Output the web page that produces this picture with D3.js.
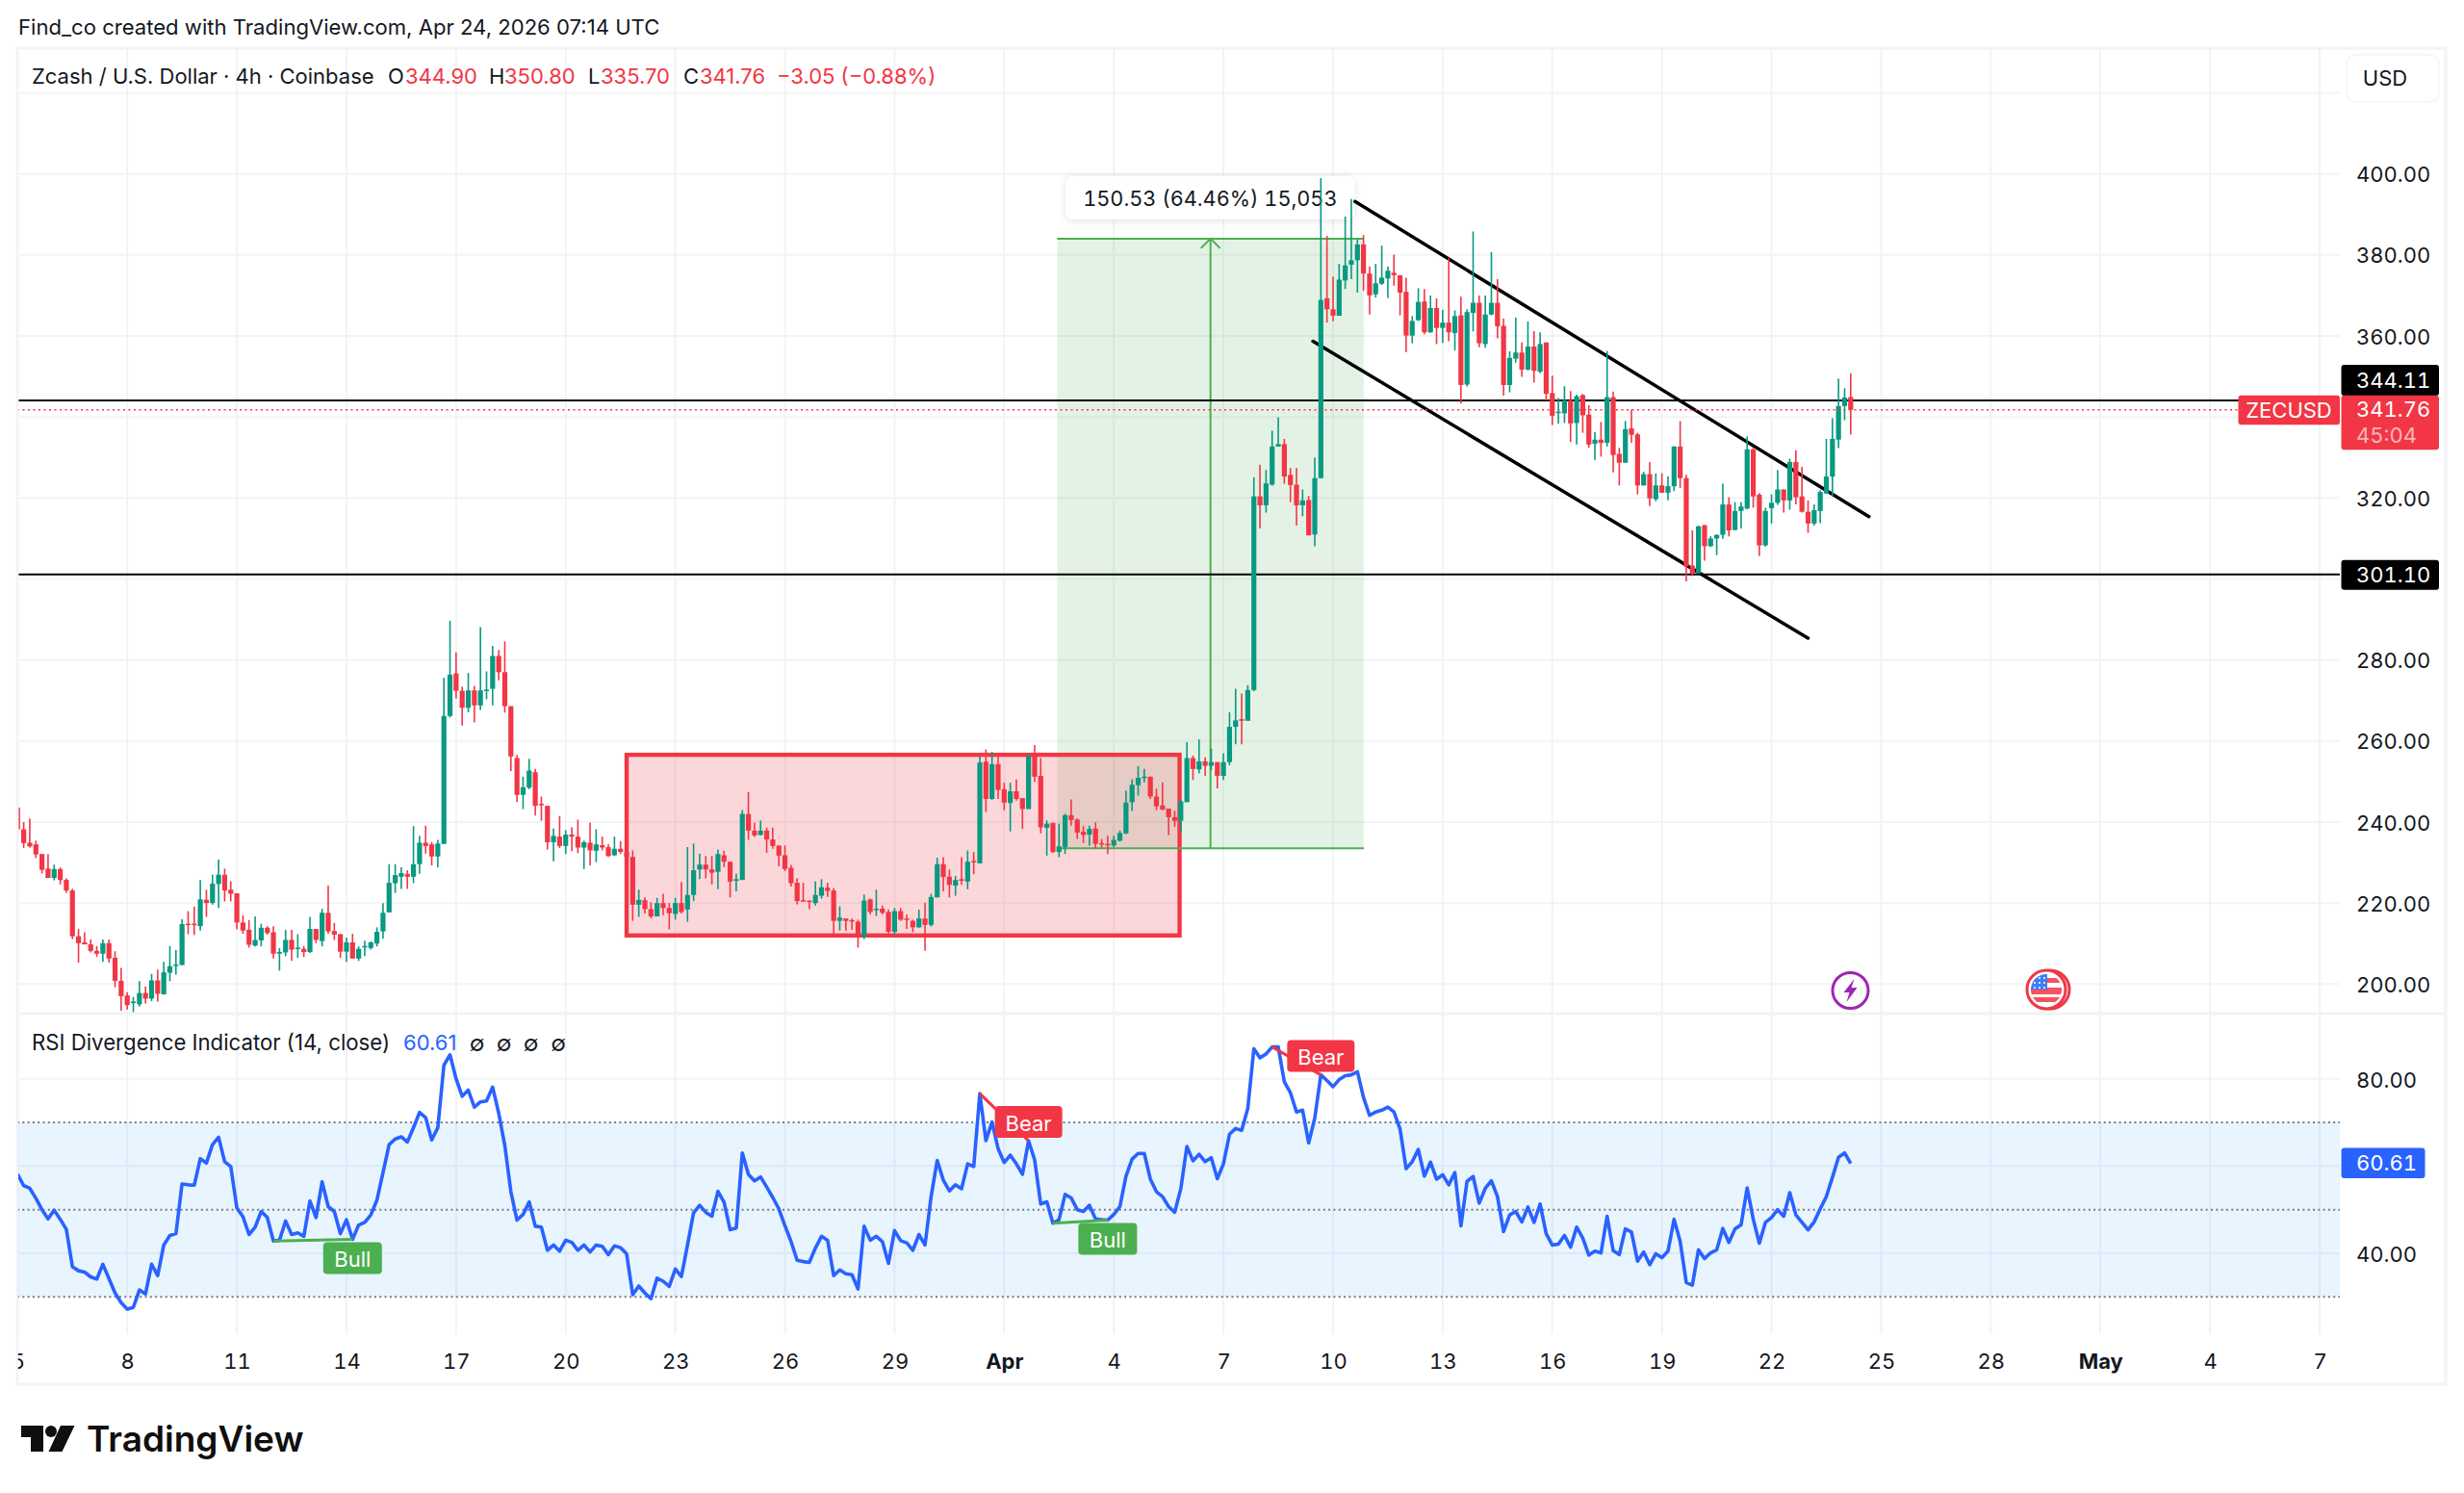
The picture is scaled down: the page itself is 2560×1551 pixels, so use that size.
<!DOCTYPE html>
<html>
<head>
<meta charset="utf-8">
<title>ZECUSD 4h</title>
<script src="https://cdn.jsdelivr.net/npm/d3@7/dist/d3.min.js"></script>
<style>
  html, body { margin: 0; padding: 0; background: #fff; }
  svg { display: block; }
  text { font-family: Inter, "Noto Sans", sans-serif; font-kerning: normal; font-feature-settings: "tnum" 1; }
  text.prose { font-feature-settings: normal; }
</style>
</head>
<body>
<svg id="chart" width="2560" height="1551"></svg>
<script>
// 4h ZEC/USD candles, one entry per bar, starting 5 March 2026 00:00 UTC.
const opens = [
243.6,238.2,234.9,234.5,232.1,228.5,226.2,228.4,225.7,223.1,
211.8,210.3,209.8,208.2,207.5,210.1,206.5,200.8,197.2,195.3,
195.0,197.8,196.4,200.9,197.5,202.8,204.5,204.7,214.9,214.9,
214.3,220.8,220.0,224.7,227.0,223.3,222.4,215.2,213.4,209.5,
210.8,213.9,212.8,207.5,207.8,210.9,208.7,208.7,207.9,213.6,
210.6,217.6,213.1,212.3,208.0,210.3,206.3,209.1,208.9,210.0,
213.0,217.7,224.9,226.5,227.2,226.5,229.6,234.9,234.5,231.5,
234.6,266.2,276.7,272.4,268.2,272.5,268.8,272.4,272.9,281.0,
277.0,268.6,255.8,246.7,248.5,252.3,244.5,244.0,235.0,236.4,
234.1,236.9,236.4,233.7,234.9,232.9,234.3,233.8,231.8,233.4,
232.6,231.4,219.6,220.7,218.5,216.7,220.0,218.8,217.3,220.0,
218.4,222.0,228.3,229.5,228.3,227.7,231.8,230.2,225.5,225.7,
242.0,237.9,236.8,237.9,235.7,234.2,231.8,228.7,225.0,220.7,
220.6,220.0,221.8,223.8,223.1,215.6,216.2,215.8,215.4,211.8,
220.9,218.3,218.6,217.8,212.9,218.0,216.2,215.6,214.0,216.2,
214.6,221.4,229.6,226.5,224.3,225.9,225.3,230.4,229.8,254.9,
245.7,254.3,248.1,244.7,247.6,245.9,243.2,256.3,251.4,238.6,
239.8,232.6,233.8,241.7,240.6,237.6,236.9,238.4,234.8,234.6,
234.2,235.4,237.2,244.9,249.1,250.9,251.2,246.3,244.1,243.3,
241.2,240.3,244.9,255.8,253.0,255.0,253.9,254.8,251.4,254.8,
263.5,265.4,265.0,272.6,320.4,318.2,323.3,332.7,333.3,325.7,
323.3,318.2,319.5,311.0,324.9,369.3,366.6,365.0,373.7,377.6,
378.7,382.6,375.4,370.3,372.9,374.2,375.6,375.0,370.9,360.1,
363.9,368.5,360.9,366.9,362.0,363.3,360.7,365.1,348.0,365.7,
368.2,358.0,365.3,368.2,362.5,347.9,354.4,355.9,351.7,357.4,
351.2,358.4,345.9,341.1,340.9,344.1,338.5,345.4,340.6,333.4,
334.4,333.6,344.9,330.9,328.7,337.2,335.7,323.1,325.9,319.7,
323.1,321.3,322.9,332.7,324.9,303.3,301.4,313.3,308.1,310.0,
310.9,318.4,312.1,316.8,317.4,332.0,320.8,308.3,317.5,318.8,
322.1,319.4,328.9,320.4,316.6,313.7,316.8,321.1,325.3,334.4,342.7,344.9];
const highs = [
243.6,240.0,240.8,235.4,232.1,232.1,229.5,228.8,226.1,223.5,
213.6,212.8,211.0,209.4,211.0,211.0,208.1,204.0,198.0,196.8,
200.7,199.4,202.5,203.6,205.5,209.4,208.4,216.0,218.0,219.1,
225.7,223.3,227.0,230.7,228.5,225.4,222.4,217.0,215.8,216.7,
214.9,214.3,214.3,208.9,213.4,213.4,212.3,209.4,216.6,213.6,
218.6,224.3,215.1,212.4,211.5,212.4,209.3,210.7,210.5,214.0,
220.0,229.6,229.6,228.8,228.1,239.0,236.6,239.1,235.1,235.6,
275.6,289.7,281.9,273.4,276.8,273.6,288.1,277.2,283.5,282.5,
284.6,268.6,256.6,251.2,255.6,253.1,246.3,244.0,238.4,241.5,
238.0,238.7,240.6,235.4,239.9,238.2,236.4,234.5,236.4,235.3,
232.8,233.0,223.3,221.4,220.2,221.3,222.3,220.0,221.3,225.2,
233.8,234.7,232.2,231.6,231.6,233.2,232.9,230.2,227.3,243.0,
247.4,239.8,240.4,238.6,238.6,234.2,234.2,229.4,226.1,225.0,
220.6,225.3,225.9,225.0,223.7,219.2,216.2,216.2,215.9,222.1,
221.1,223.3,219.4,218.4,218.8,218.8,217.2,215.9,218.4,220.1,
222.3,231.2,231.3,228.3,226.7,231.3,233.0,232.6,256.4,257.9,
257.3,256.2,249.7,249.7,250.5,245.9,256.6,259.0,255.8,240.4,
239.8,239.6,242.0,245.6,240.9,239.0,239.1,239.9,235.8,236.6,
236.6,237.9,247.8,250.5,253.8,253.1,251.2,248.2,249.8,243.3,
242.8,245.4,259.7,256.4,260.4,256.0,258.1,254.8,257.0,267.1,
272.9,271.7,273.8,325.1,328.2,326.9,336.6,339.9,334.6,327.4,
327.4,322.1,320.5,330.0,399.0,384.7,374.6,377.8,389.5,393.8,
383.9,384.9,377.2,377.8,382.3,377.2,380.1,375.0,374.4,364.9,
371.8,371.6,370.0,369.3,366.5,379.2,366.3,369.7,366.6,385.8,
370.0,370.0,380.7,374.0,364.3,356.2,364.5,358.4,363.6,361.2,
360.9,358.4,350.2,344.7,347.6,346.4,345.5,345.7,342.9,336.3,
338.8,356.3,346.3,332.4,339.0,341.8,336.1,326.5,328.9,326.1,
326.1,325.3,332.8,339.0,325.7,312.0,313.2,313.3,310.6,311.0,
323.5,320.2,319.0,319.0,335.2,332.4,321.2,317.6,320.9,326.9,
322.1,329.7,331.8,327.7,319.4,318.4,321.9,334.6,339.7,349.5,347.1,350.8];
const lows = [
237.0,233.6,233.7,231.1,227.3,226.2,225.6,224.6,222.5,211.1,
205.3,209.8,207.8,206.7,205.5,205.3,199.2,193.4,193.7,192.8,
194.4,195.2,195.8,195.7,197.4,200.7,202.3,204.7,212.3,212.1,
213.2,216.6,219.6,218.8,220.4,220.4,213.5,212.4,209.0,209.3,
209.3,212.2,206.3,203.3,206.9,205.7,206.5,206.7,207.7,210.1,
209.3,212.4,210.9,206.5,205.5,206.3,205.7,206.9,208.5,209.3,
211.2,217.7,222.5,223.5,223.5,224.9,227.2,232.2,229.3,228.8,
234.6,265.8,270.5,263.8,267.1,264.6,267.7,270.3,268.8,275.0,
267.0,252.6,244.9,243.2,248.1,241.6,240.3,233.2,230.3,233.6,
232.1,232.8,232.3,228.4,229.3,230.1,233.0,231.4,231.6,232.1,
231.2,215.6,216.6,217.4,216.2,216.7,217.0,213.5,215.9,217.4,
215.4,220.5,225.9,226.1,224.6,223.4,228.9,221.4,222.9,225.7,
235.6,236.3,236.7,232.4,233.4,229.1,227.9,224.1,219.7,220.4,
218.5,219.4,221.1,221.5,212.0,213.2,213.2,213.4,209.0,211.1,
217.2,216.8,217.2,212.3,212.3,215.6,213.6,212.8,213.9,208.2,
214.2,221.4,222.9,221.4,221.8,224.5,223.4,227.1,229.8,242.5,
245.5,245.7,242.9,237.7,245.3,238.3,243.2,249.9,237.2,231.7,
232.4,231.3,232.1,239.1,235.8,234.8,234.2,233.4,233.4,232.1,
233.8,235.2,237.0,242.7,246.5,249.8,245.7,242.9,242.9,236.8,
238.8,237.4,244.9,250.4,252.0,251.4,252.8,248.3,250.4,254.0,
259.2,259.2,265.0,272.3,312.5,316.4,323.0,332.7,323.5,319.0,
313.2,315.5,310.7,308.1,324.9,363.3,363.6,365.0,371.6,374.0,
370.7,371.2,365.3,369.5,372.6,369.4,372.4,365.1,356.0,358.2,
363.7,360.4,360.8,358.0,358.3,358.7,356.4,343.3,347.5,361.1,
357.2,357.1,365.1,359.4,345.3,346.1,353.4,349.9,351.5,348.5,
350.8,344.1,338.0,338.4,338.5,333.8,333.2,336.1,332.4,329.4,
330.2,332.7,326.3,323.1,328.7,333.6,320.9,323.1,318.0,319.2,
321.3,319.4,321.7,322.5,299.4,300.7,301.4,304.5,307.9,305.9,
309.9,310.5,312.0,312.5,317.2,317.6,305.7,308.0,313.7,318.3,
316.4,317.1,318.4,316.4,311.4,313.2,313.8,321.1,320.3,332.3,339.2,335.7];
const closes = [
238.2,234.8,234.0,232.0,228.2,226.2,228.4,225.7,223.1,211.8,
210.1,209.8,208.2,207.5,210.1,206.3,200.8,197.0,194.8,195.7,
197.8,196.4,200.9,197.6,202.9,204.4,204.8,214.8,214.6,214.6,
220.9,220.0,224.8,227.0,223.1,222.3,215.2,213.2,209.7,210.9,
213.9,212.6,207.5,207.9,210.9,208.5,209.0,207.9,213.6,210.9,
217.6,213.0,212.2,208.0,210.3,206.3,208.7,209.4,210.3,212.9,
217.6,225.0,226.9,227.4,226.5,229.6,234.9,234.1,231.5,234.7,
266.2,276.4,272.4,268.2,272.5,268.8,272.5,272.7,281.0,277.0,
268.6,256.2,246.7,248.6,252.7,244.0,244.3,235.0,236.6,234.1,
236.9,236.4,233.7,235.0,233.0,234.5,233.7,231.6,233.4,232.6,
231.4,219.6,220.8,218.5,216.7,220.0,218.8,217.5,220.0,217.8,
222.0,228.1,229.5,228.3,227.5,232.1,230.2,225.3,225.9,242.0,
237.9,236.7,237.9,235.7,234.1,231.7,228.4,224.9,220.5,220.4,
220.4,222.0,223.9,223.0,215.6,216.4,215.6,215.6,211.8,220.6,
217.8,218.6,217.6,212.9,218.0,215.9,216.0,214.0,216.2,214.6,
221.5,229.6,226.4,224.5,225.7,225.5,230.2,230.2,254.7,245.7,
254.3,247.9,244.8,247.6,245.7,243.2,256.3,251.2,238.7,239.6,
232.6,234.0,241.7,240.5,237.4,236.8,238.3,234.6,234.6,234.5,
235.6,237.3,244.8,249.2,250.9,251.2,246.3,243.9,243.1,241.2,
240.3,245.1,255.8,253.1,255.0,253.9,254.8,251.4,254.8,263.5,
265.1,265.0,272.6,320.4,318.2,323.6,332.7,333.3,325.3,323.2,
318.2,319.4,310.8,324.9,368.9,366.6,365.0,373.9,377.4,378.7,
382.6,375.4,370.0,373.0,374.4,376.1,375.0,370.7,360.1,363.7,
368.4,360.9,366.9,362.0,363.3,360.9,364.9,347.9,365.9,368.2,
358.2,365.3,368.2,362.4,347.9,354.6,355.9,351.7,357.4,351.4,
358.0,345.7,340.3,341.3,344.1,338.4,345.1,340.4,333.2,334.4,
333.6,344.9,330.6,328.7,337.0,335.6,323.1,325.9,319.9,323.1,
321.3,322.9,332.7,324.9,303.1,301.3,313.0,308.1,310.0,310.9,
318.4,312.0,316.8,317.9,332.0,320.4,308.3,316.8,318.8,322.1,
319.4,328.9,320.2,316.6,313.7,317.0,321.5,325.3,334.6,342.7,344.81,341.76];

// RSI(14) on the same bars.
const rsiValues = [
58.1,55.5,54.9,52.6,50.0,47.9,49.9,47.8,45.5,36.9,
36.0,35.7,34.6,34.1,37.5,34.2,30.9,28.7,27.2,27.6,
31.6,30.7,37.5,34.9,41.9,44.1,44.5,55.9,55.7,55.6,
61.7,60.7,64.9,66.6,61.0,59.9,50.4,48.4,44.3,46.0,
49.6,48.2,42.8,43.0,47.4,44.3,44.7,43.9,52.0,48.2,
56.4,50.7,49.6,44.5,47.7,43.2,46.5,47.1,48.8,52.2,
58.5,64.9,66.2,66.7,65.5,68.8,72.3,71.1,66.0,68.8,
83.1,85.5,80.0,76.0,77.4,73.5,74.7,74.9,78.1,72.1,
64.7,54.1,47.6,48.9,51.8,46.2,46.0,40.7,41.9,40.5,
43.0,42.5,40.7,41.9,40.3,41.9,41.6,39.7,41.7,41.3,
39.9,30.5,32.5,30.9,29.6,34.3,33.6,32.4,36.4,34.7,
41.9,49.3,51.0,49.4,48.5,54.2,51.7,45.4,45.8,63.0,
58.1,56.6,57.5,55.2,52.8,50.2,46.3,42.7,38.4,38.1,
37.9,41.2,43.9,43.0,34.9,36.2,35.3,35.1,31.8,46.2,
43.0,43.9,42.7,37.7,45.2,42.9,42.4,40.7,44.3,41.9,
53.0,61.3,56.8,54.3,55.7,54.8,60.5,59.9,76.6,65.8,
70.1,64.0,60.8,62.5,60.5,58.1,65.8,61.4,51.3,51.8,
46.9,47.7,53.5,52.7,50.0,49.6,51.0,47.9,47.7,47.6,
48.9,50.7,57.7,61.6,62.9,62.9,57.0,54.1,53.0,50.7,
49.4,54.8,64.5,61.2,62.7,61.0,61.9,57.1,60.5,67.3,
68.6,68.2,73.2,86.9,84.8,85.7,87.3,87.3,79.3,76.8,
72.4,72.8,65.3,71.0,80.9,79.6,78.2,79.8,80.7,80.9,
81.6,75.7,71.6,72.4,72.8,73.5,72.4,68.5,59.4,61.0,
63.8,57.7,60.9,57.0,58.0,55.7,58.5,46.3,56.5,57.6,
51.5,54.9,56.6,53.0,45.0,48.8,49.6,47.2,50.6,47.1,
51.3,44.5,41.9,42.1,44.1,41.4,46.0,43.5,39.6,40.5,
40.1,48.5,40.6,39.7,45.6,44.9,38.2,40.3,37.4,39.9,
39.0,40.5,47.8,42.7,33.3,32.7,40.8,38.8,40.1,40.8,
45.7,42.5,45.6,46.5,55.0,47.8,42.3,47.1,48.2,50.0,
48.5,53.9,48.8,47.1,45.4,47.2,50.2,53.0,57.4,62.0,63.0,60.61];

// Axis ticks.
const priceTicks = [200, 220, 240, 260, 280, 300, 320, 340, 360, 380, 400, 420];
const priceLabels = [200, 220, 240, 260, 280, 320, 360, 380, 400];
const rsiGrid = [40, 60, 80];
const rsiLevels = [30, 50, 70];
const dateTicks = ["03-05","03-08","03-11","03-14","03-17","03-20","03-23","03-26","03-29","04-01",
                   "04-04","04-07","04-10","04-13","04-16","04-19","04-22","04-25","04-28","05-01","05-04","05-07"];

// Drawings, in bar numbers and prices.
const levelLines = [344.11, 301.10];
const lastPrice = 341.76;
const channelUpper = [[219.6, 393.2], [304.0, 315.4]];
const channelLower = [[212.7, 358.7], [294.0, 285.4]];
const rangeBox = { bars: [100, 190.8], prices: [256.6, 212.0] };
const longPosition = { bars: [170.7, 221.05], entry: 233.5, target: 384.03 };
const longPositionLabel = "150.53 (64.46%) 15,053";

// RSI divergences as [first pivot bar, second pivot bar].
const bullPivots = [[42, 55], [170, 179]];
const bearPivots = [[158, 166], [206, 214]];

const RED = "#f23645", GREEN = "#089981", INK = "#131722", GRID = "#f2f3f6", BLUE = "#2962ff";
const FRAME = { left: 18, right: 2541, top: 50, bottom: 1438 };
const PLOT_RIGHT = 2431, DIVIDER = 1053, GRID_BOTTOM = 1386;

const svg = d3.select("#chart");
const startTime = Date.UTC(2026, 2, 5);
const barDate = i => new Date(startTime + i * 4 * 3600e3);
const x = d3.scaleUtc().domain([new Date(Date.UTC(2026, 2, 5)), new Date(Date.UTC(2026, 4, 7))]).range([18.3, 2410]);
const bx = i => x(barDate(i));
const y = d3.scaleLinear().domain([200, 400]).range([1022.3, 180.7]);
const yR = d3.scaleLinear().domain([40, 80]).range([1302, 1120.7]);

const defs = svg.append("defs");
defs.append("clipPath").attr("id", "plot").append("rect")
  .attr("x", FRAME.left + 1).attr("y", FRAME.top).attr("width", PLOT_RIGHT - FRAME.left - 1).attr("height", GRID_BOTTOM - FRAME.top);
const shadow = defs.append("filter").attr("id", "soft").attr("x", "-10%").attr("y", "-40%").attr("width", "120%").attr("height", "180%");
shadow.append("feDropShadow").attr("dx", 0).attr("dy", 1).attr("stdDeviation", 4).attr("flood-color", "#000").attr("flood-opacity", 0.12);

const plot = svg.append("g").attr("clip-path", "url(#plot)");

// Grid
const dates = dateTicks.map(s => new Date(`2026-${s}T00:00:00Z`));
plot.append("g").selectAll("line").data(dates).join("line")
  .attr("x1", d => x(d)).attr("x2", d => x(d)).attr("y1", FRAME.top).attr("y2", GRID_BOTTOM)
  .attr("stroke", GRID).attr("stroke-width", 2);
plot.append("g").selectAll("line").data(priceTicks).join("line")
  .attr("x1", FRAME.left).attr("x2", PLOT_RIGHT).attr("y1", d => y(d)).attr("y2", d => y(d))
  .attr("stroke", GRID).attr("stroke-width", 2);

// Long position tool
const lp = longPosition;
const lpX0 = bx(lp.bars[0]), lpX1 = bx(lp.bars[1]), lpMid = (lpX0 + lpX1) / 2;
plot.append("rect").attr("x", lpX0).attr("width", lpX1 - lpX0)
  .attr("y", y(lp.target)).attr("height", y(lp.entry) - y(lp.target)).attr("fill", "rgba(76,165,80,0.15)");

// Range box
const rb = rangeBox;
plot.append("rect").attr("x", bx(rb.bars[0])).attr("width", bx(rb.bars[1]) - bx(rb.bars[0]))
  .attr("y", y(rb.prices[0])).attr("height", y(rb.prices[1]) - y(rb.prices[0]))
  .attr("fill", "rgba(242,54,69,0.2)").attr("stroke", RED).attr("stroke-width", 4.4);

// Long position lines and arrow
const lpLines = plot.append("g").attr("stroke", "#4caf50").attr("stroke-width", 2).attr("fill", "none");
lpLines.append("line").attr("x1", lpX0).attr("x2", lpX1).attr("y1", y(lp.target)).attr("y2", y(lp.target));
lpLines.append("line").attr("x1", lpX0).attr("x2", lpX1).attr("y1", y(lp.entry)).attr("y2", y(lp.entry));
lpLines.append("line").attr("x1", lpMid).attr("x2", lpMid).attr("y1", y(lp.entry)).attr("y2", y(lp.target));
lpLines.append("path").attr("d", d3.line()([[lpMid - 10, y(lp.target) + 10], [lpMid, y(lp.target)], [lpMid + 10, y(lp.target) + 10]]));

// Long position caption
const capX = bx(lp.bars[0]) + 9, capW = 300;
plot.append("rect").attr("x", capX).attr("y", 183).attr("width", capW).attr("height", 45)
  .attr("rx", 8).attr("fill", "#fff").attr("filter", "url(#soft)");
plot.append("text").attr("x", capX + capW / 2).attr("y", 206).attr("dy", "0.35em").attr("text-anchor", "middle")
  .attr("font-size", 21.7).attr("fill", INK).text(longPositionLabel);

// Horizontal levels and channel
plot.append("g").selectAll("line").data(levelLines).join("line")
  .attr("x1", FRAME.left).attr("x2", PLOT_RIGHT).attr("y1", d => y(d)).attr("y2", d => y(d))
  .attr("stroke", "#000").attr("stroke-width", 2);
const chanLine = d3.line().x(d => bx(d[0])).y(d => y(d[1]));
plot.append("g").selectAll("path").data([channelUpper, channelLower]).join("path")
  .attr("d", chanLine).attr("fill", "none").attr("stroke", "#000").attr("stroke-width", 3.5).attr("stroke-linecap", "round");

// Candles
const bars = opens.map((o, i) => ({ i, o, h: highs[i], l: lows[i], c: closes[i] }));
const candles = plot.append("g").selectAll("g").data(bars).join("g")
  .attr("fill", d => d.c >= d.o ? GREEN : RED).attr("stroke", d => d.c >= d.o ? GREEN : RED);
candles.append("line").attr("x1", d => bx(d.i)).attr("x2", d => bx(d.i))
  .attr("y1", d => y(d.h)).attr("y2", d => y(d.l)).attr("stroke-width", 1.6);
candles.append("rect").attr("x", d => bx(d.i) - 2.6).attr("width", 5.2)
  .attr("y", d => y(Math.max(d.o, d.c))).attr("height", d => Math.max(1.5, Math.abs(y(d.o) - y(d.c)))).attr("stroke", "none");

// Last price line
svg.append("line").attr("x1", FRAME.left).attr("x2", 2325).attr("y1", y(lastPrice)).attr("y2", y(lastPrice))
  .attr("stroke", RED).attr("stroke-width", 1.5).attr("stroke-dasharray", "2 3.5");

// Frame and pane divider
svg.append("rect").attr("x", FRAME.left).attr("y", FRAME.top).attr("width", FRAME.right - FRAME.left).attr("height", FRAME.bottom - FRAME.top)
  .attr("fill", "none").attr("stroke", GRID).attr("stroke-width", 3);
svg.append("line").attr("x1", FRAME.left).attr("x2", FRAME.right).attr("y1", DIVIDER).attr("y2", DIVIDER)
  .attr("stroke", GRID).attr("stroke-width", 3);

// RSI pane
const rsiG = svg.append("g").attr("clip-path", "url(#plot)");
rsiG.append("g").selectAll("line").data(rsiGrid).join("line")
  .attr("x1", FRAME.left).attr("x2", PLOT_RIGHT).attr("y1", d => yR(d)).attr("y2", d => yR(d))
  .attr("stroke", GRID).attr("stroke-width", 2);
rsiG.append("rect").attr("x", FRAME.left).attr("width", PLOT_RIGHT - FRAME.left)
  .attr("y", yR(70)).attr("height", yR(30) - yR(70)).attr("fill", "rgba(33,150,243,0.1)");
rsiG.append("g").selectAll("line").data(rsiLevels).join("line")
  .attr("x1", FRAME.left).attr("x2", PLOT_RIGHT).attr("y1", d => yR(d)).attr("y2", d => yR(d))
  .attr("stroke", "#787b86").attr("stroke-width", 2).attr("stroke-dasharray", "2 3.3");
rsiG.append("path").datum(rsiValues)
  .attr("d", d3.line().x((d, i) => bx(i)).y(d => yR(d)))
  .attr("fill", "none").attr("stroke", BLUE).attr("stroke-width", 3.6).attr("stroke-linejoin", "round");

// Divergence markers
function divergence(pairs, color, label, below, w) {
  const g = rsiG.append("g");
  pairs.forEach(([a, b]) => {
    g.append("line").attr("x1", bx(a)).attr("x2", bx(b)).attr("y1", yR(rsiValues[a])).attr("y2", yR(rsiValues[b]))
      .attr("stroke", color).attr("stroke-width", 3);
    const cx = bx(b), py = yR(rsiValues[b]);
    const top = below ? py + 3 : py - 36;
    g.append("rect").attr("x", cx - w / 2).attr("y", top).attr("width", w).attr("height", 33).attr("rx", 4).attr("fill", color);
    g.append("text").attr("x", cx).attr("y", top + 18).attr("dy", "0.35em").attr("text-anchor", "middle")
      .attr("font-size", 22).attr("fill", "#fff").text(label);
  });
}
divergence(bullPivots, "#4caf50", "Bull", true, 61);
divergence(bearPivots, RED, "Bear", false, 70);

// Price axis
const tickStyle = sel => {
  sel.select(".domain").remove();
  sel.selectAll(".tick line").remove();
  sel.selectAll("text").attr("font-size", 22).attr("fill", INK).attr("font-family", "Inter, sans-serif");
};
svg.append("g").attr("transform", "translate(2448,1)")
  .call(d3.axisRight(y).tickValues(priceLabels).tickFormat(d3.format(".2f")).tickSize(0).tickPadding(0)).call(tickStyle);
svg.append("g").attr("transform", "translate(2448,1.5)")
  .call(d3.axisRight(yR).tickValues([40, 80]).tickFormat(d3.format(".2f")).tickSize(0).tickPadding(0)).call(tickStyle);

// Time axis; the first day label is cut off at the pane edge.
const timeFmt = d => d.getUTCDate() === 1 ? d3.utcFormat("%b")(d) : String(d.getUTCDate());
const timeAxis = svg.append("g").attr("transform", "translate(0,1406)")
  .call(d3.axisBottom(x).tickValues(dates).tickFormat(timeFmt).tickSize(0).tickPadding(0)).call(tickStyle);
timeAxis.selectAll("text").attr("font-weight", d => d.getUTCDate() === 1 ? 700 : 400);
timeAxis.selectAll(".tick").filter(d => x(d) < 30).attr("clip-path", "url(#firstTick)");
defs.append("clipPath").attr("id", "firstTick").append("rect").attr("x", 0).attr("y", -20).attr("width", 12).attr("height", 60);

// Axis tags
function tag(x0, yTop, w, h, fill, rx) {
  svg.append("rect").attr("x", x0).attr("y", yTop).attr("width", w).attr("height", h).attr("rx", rx === undefined ? 3 : rx).attr("fill", fill);
}
function tagText(s, x0, yc, fill, opts) {
  const t = svg.append("text").attr("x", x0).attr("y", yc).attr("dy", "0.35em").attr("font-size", 22).attr("fill", fill).text(s);
  if (opts) Object.entries(opts).forEach(([k, v]) => t.attr(k, v));
  return t;
}
tag(2432.5, 379, 101.5, 32, "#000");
tagText(d3.format(".2f")(levelLines[0]), 2448, 395, "#fff");
tag(2432.5, 410.7, 101.5, 56.6, RED);
tagText(d3.format(".2f")(lastPrice), 2448, y(lastPrice), "#fff");
tagText("45:04", 2448, 452, "rgba(255,255,255,0.65)");
tag(2325.5, 410.7, 105.5, 30.6, RED);
tagText("ZECUSD", 2378, 426, "#fff", { "text-anchor": "middle" });
tag(2432.5, 581.7, 101.5, 31, "#000");
tagText(d3.format(".2f")(levelLines[1]), 2448, y(levelLines[1]), "#fff");
tag(2432.5, yR(rsiValues[301]) - 16, 87, 31.5, BLUE);
tagText(d3.format(".2f")(rsiValues[301]), 2448, yR(rsiValues[301]), "#fff");

// USD button
svg.append("rect").attr("x", 2438).attr("y", 57).attr("width", 96).attr("height", 49).attr("rx", 9)
  .attr("fill", "#fff").attr("stroke", "#f4f5f8").attr("stroke-width", 1.5);
tagText("USD", 2478, 81, INK, { "text-anchor": "middle" });

// Header text
svg.append("text").attr("class", "prose").attr("x", 19).attr("y", 28).attr("dy", "0.35em").attr("font-size", 22.1).attr("fill", INK)
  .text("Find_co created with TradingView.com, Apr 24, 2026 07:14 UTC");
const legend = [
  ["Zcash / U.S. Dollar · 4h · Coinbase", 33, INK],
  ["O", 403, INK], ["344.90", 421, RED],
  ["H", 508, INK], ["350.80", 524, RED],
  ["L", 611, INK], ["335.70", 624, RED],
  ["C", 710, INK], ["341.76", 727, RED],
  ["−3.05 (−0.88%)", 807, RED]
];
svg.append("g").selectAll("text").data(legend).join("text").attr("class", "prose")
  .attr("x", d => d[1]).attr("y", 79).attr("dy", "0.35em").attr("font-size", 22).attr("fill", d => d[2]).text(d => d[0]);

// RSI legend
svg.append("text").attr("class", "prose").attr("x", 33).attr("y", 1083).attr("dy", "0.35em").attr("font-size", 22.2).attr("fill", INK)
  .text("RSI Divergence Indicator (14, close)");
svg.append("text").attr("class", "prose").attr("x", 419).attr("y", 1083).attr("dy", "0.35em").attr("font-size", 22).attr("fill", BLUE)
  .text(d3.format(".2f")(rsiValues[301]));
svg.append("g").selectAll("text").data([495.5, 523.5, 551.5, 580]).join("text")
  .attr("x", d => d).attr("y", 1084).attr("dy", "0.35em").attr("text-anchor", "middle").attr("font-size", 23).attr("fill", INK).text("∅");

// Event markers on the time scale
const bolt = svg.append("g").attr("transform", "translate(1922.5,1029)");
bolt.append("ellipse").attr("rx", 18.5).attr("ry", 18.5).attr("fill", "#fff").attr("stroke", "#9c27b0").attr("stroke-width", 3);
bolt.append("path").attr("d", "M4-12-7 2H-1L-4 12 7-3H1Z").attr("fill", "#9c27b0");

const flag = svg.append("g").attr("transform", "translate(2126,1028)");
flag.append("circle").attr("cx", 4).attr("r", 20).attr("fill", "#fff").attr("stroke", RED).attr("stroke-width", 3);
flag.append("circle").attr("cx", 0).attr("r", 20).attr("fill", "#fff").attr("stroke", RED).attr("stroke-width", 3);
defs.append("clipPath").attr("id", "flagClip").append("circle").attr("r", 16);
const flagInner = flag.append("g").attr("clip-path", "url(#flagClip)");
[-12, -2, 8].forEach((v, k) => flagInner.append("rect").attr("x", -16).attr("y", v).attr("width", 32).attr("height", k === 1 ? 7 : 5).attr("fill", "#f6525f"));
flagInner.append("rect").attr("x", -16).attr("y", -17).attr("width", 17).attr("height", 17).attr("fill", "#3d7ff5");
[-12, -7, -2].forEach(cy => [-12, -7, -2].forEach(cx =>
  flagInner.append("circle").attr("cx", cx).attr("cy", cy).attr("r", 1).attr("fill", "#fff")));

// Wordmark
const logo = svg.append("g").attr("fill", "#0f0f0f");
logo.append("path").attr("d", "M22 1481H45V1508H32V1493H22Z");
logo.append("circle").attr("cx", 53).attr("cy", 1487).attr("r", 6);
logo.append("path").attr("d", "M63 1481H77.5L64.5 1508H50.5Z");
logo.append("text").attr("class", "prose").attr("x", 90).attr("y", 1508).attr("font-size", 37).attr("font-weight", 600).text("TradingView");
</script>
</body>
</html>
